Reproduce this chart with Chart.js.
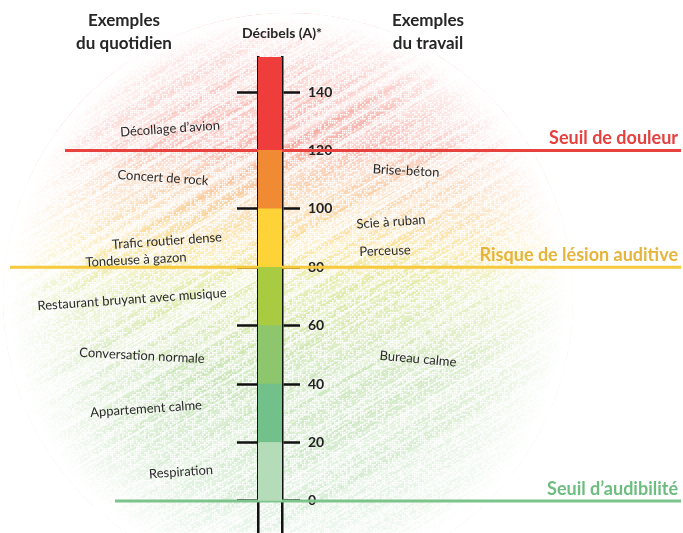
<!DOCTYPE html>
<html>
<head>
<meta charset="utf-8">
<script src="https://cdn.jsdelivr.net/npm/chart.js@4"></script>
<style>
  body { margin: 0; background: #fff; }
</style>
</head>
<body>
<canvas id="echelle" width="683" height="533"></canvas>
<script>
// Échelle des décibels : segments du tube, exemples et seuils
const segBas = [0, 20, 40, 60, 80, 100, 120];
const segHaut = [20, 40, 60, 80, 100, 120, 152];
const segCouleurs = ['#b4dcb9', '#72c18b', '#8ec66d', '#a9cb42', '#fdd338', '#f08b34', '#ee3d3a'];

const exQuotidien = ['Décollage d’avion', 'Concert de rock', 'Trafic routier dense', 'Tondeuse à gazon',
  'Restaurant bruyant avec musique', 'Conversation normale', 'Appartement calme', 'Respiration'];
const niveauxQuotidien = [127.4, 110.6, 89, 82.5, 69, 49.7, 31.5, 9.9];

const exTravail = ['Brise-béton', 'Scie à ruban', 'Perceuse', 'Bureau calme'];
const niveauxTravail = [113, 95.5, 85.6, 48.6];

const seuils = ['Seuil de douleur', 'Risque de lésion auditive', 'Seuil d’audibilité'];
const niveauxSeuils = [120, 80, 0];

// mise en page des textes (pas des données)
const xQuotidien = [170, 163, 167, 136, 132, 142, 146, 181];
const angQuotidien = [-4, 4, -4, -3, -4, 3, -4, -4];
const xTravail = [406, 391, 385, 418];
const angTravail = [3, -4, -2, 5];
const seuilDebut = [65, 10, 115];
const seuilTrait = ['#e8423f', '#f7c93c', '#7cc48c'];
const seuilTexte = ['#e5403e', '#e6b43a', '#6dbd80'];

const police = 'Lato, "Open Sans", sans-serif';

// petit bruit déterministe pour le grain du crayon
const grain = (a, b) => {
  const s = Math.sin(a * 12.9898 + b * 78.233) * 43758.5453;
  return s - Math.floor(s);
};

const fondCrayon = {
  id: 'fondCrayon',
  beforeDraw(chart) {
    const ctx = chart.ctx;
    const y = chart.scales.y;
    ctx.save();
    ctx.beginPath();
    ctx.ellipse(288, 298, 285, 285, 0, 0, 2 * Math.PI);
    ctx.clip();
    const g = ctx.createLinearGradient(0, 0, 0, 533);
    const p = v => Math.min(1, Math.max(0, y.getPixelForValue(v) / 533));
    g.addColorStop(0, '#ef5a4e');
    g.addColorStop(p(122), '#f06c5c');
    g.addColorStop(p(114), '#f49a66');
    g.addColorStop(p(98), '#f7bf6a');
    g.addColorStop(p(86), '#f8d45a');
    g.addColorStop(p(74), '#cfdf70');
    g.addColorStop(p(45), '#a9d68a');
    g.addColorStop(1, '#9fd6a6');
    ctx.strokeStyle = g;
    const pente = Math.tan(30 * Math.PI / 180);
    for (let k = -1100, i = 0; k < 700; k += 4.2, i++) {
      ctx.globalAlpha = 0.12 + 0.38 * grain(i, 3.1);
      ctx.lineWidth = 1.2 + 3.8 * grain(i, 7.7);
      ctx.beginPath();
      ctx.moveTo(k, 533);
      ctx.lineTo(k + 1400, 533 - 1400 * pente);
      ctx.stroke();
    }
    ctx.globalAlpha = 1;
    // grain blanc
    ctx.fillStyle = '#fff';
    for (let gx = 0; gx < 600; gx += 2) {
      for (let gy = 10; gy < 533; gy += 2) {
        if (grain(gx, gy) > 0.5) ctx.fillRect(gx, gy, 1.5, 1.5);
      }
    }
    const r = ctx.createRadialGradient(288, 298, 120, 288, 298, 280);
    r.addColorStop(0, 'rgba(255,255,255,0.05)');
    r.addColorStop(0.5, 'rgba(255,255,255,0.3)');
    r.addColorStop(0.85, 'rgba(255,255,255,0.75)');
    r.addColorStop(1, 'rgba(255,255,255,1)');
    ctx.fillStyle = r;
    ctx.fillRect(0, 0, 683, 533);
    ctx.restore();
  },
  beforeDatasetsDraw(chart) {
    const ctx = chart.ctx;
    const y = chart.scales.y;
    ctx.save();
    niveauxSeuils.forEach((v, i) => {
      const py = y.getPixelForValue(v);
      ctx.strokeStyle = seuilTrait[i];
      ctx.lineWidth = 3;
      ctx.beginPath();
      ctx.moveTo(seuilDebut[i], py);
      ctx.lineTo(681, py);
      ctx.stroke();
    });
    ctx.restore();
  },
  afterDraw(chart) {
    const ctx = chart.ctx;
    const y = chart.scales.y;
    ctx.save();
    ctx.textAlign = 'center';
    ctx.textBaseline = 'middle';
    ctx.fillStyle = '#262626';
    ctx.font = 'bold 17px ' + police;
    ctx.fillText('Exemples', 124, 21);
    ctx.fillText('du quotidien', 124, 44);
    ctx.fillText('Exemples', 428, 21);
    ctx.fillText('du travail', 428, 44);
    ctx.font = 'bold 14px ' + police;
    ctx.fillText('Décibels (A)*', 282, 33);

    ctx.font = '13px ' + police;
    ctx.fillStyle = '#2a2a2a';
    const ecrire = (txt, x, v, a) => {
      ctx.save();
      ctx.translate(x, y.getPixelForValue(v));
      ctx.rotate(a * Math.PI / 180);
      ctx.fillText(txt, 0, 0);
      ctx.restore();
    };
    exQuotidien.forEach((t, i) => ecrire(t, xQuotidien[i], niveauxQuotidien[i], angQuotidien[i]));
    exTravail.forEach((t, i) => ecrire(t, xTravail[i], niveauxTravail[i], angTravail[i]));

    ctx.textAlign = 'right';
    ctx.textBaseline = 'alphabetic';
    ctx.font = 'bold 18px ' + police;
    seuils.forEach((t, i) => {
      ctx.fillStyle = seuilTexte[i];
      ctx.fillText(t, 678, y.getPixelForValue(niveauxSeuils[i]) - 6);
    });
    ctx.restore();
  }
};

const sansMarge = s => { s.paddingTop = 0; s.paddingBottom = 0; };

new Chart(document.getElementById('echelle'), {
  type: 'bar',
  data: {
    labels: ['dB'],
    datasets: segBas.map((b, i) => ({
      data: [[b, segHaut[i]]],
      backgroundColor: segCouleurs[i],
      borderWidth: 0,
      categoryPercentage: 1,
      barPercentage: 1,
      grouped: false
    }))
  },
  options: {
    responsive: false,
    animation: false,
    layout: { padding: { left: 237, right: 341, top: 57, bottom: 0 } },
    plugins: { legend: { display: false }, tooltip: { enabled: false } },
    scales: {
      x: { display: false },
      y: {
        position: 'left',
        min: -11, max: 152, z: 1,
        afterFit: s => { s.width = 21; sansMarge(s); },
        border: { color: '#111', width: 2.5 },
        grid: { drawOnChartArea: false, tickLength: 21, tickWidth: 2.5, tickColor: '#111' },
        ticks: { display: false, stepSize: 20, includeBounds: false }
      },
      y2: {
        position: 'right',
        min: -11, max: 152, z: 1,
        afterFit: s => { s.width = 60; sansMarge(s); },
        border: { color: '#111', width: 2.5 },
        grid: { drawOnChartArea: false, tickLength: 18, tickWidth: 2.5, tickColor: '#111' },
        ticks: { stepSize: 20, includeBounds: false, padding: 8, color: '#222',
          font: { family: police, weight: 'bold', size: 14 } }
      }
    }
  },
  plugins: [fondCrayon]
});
</script>
</body>
</html>
